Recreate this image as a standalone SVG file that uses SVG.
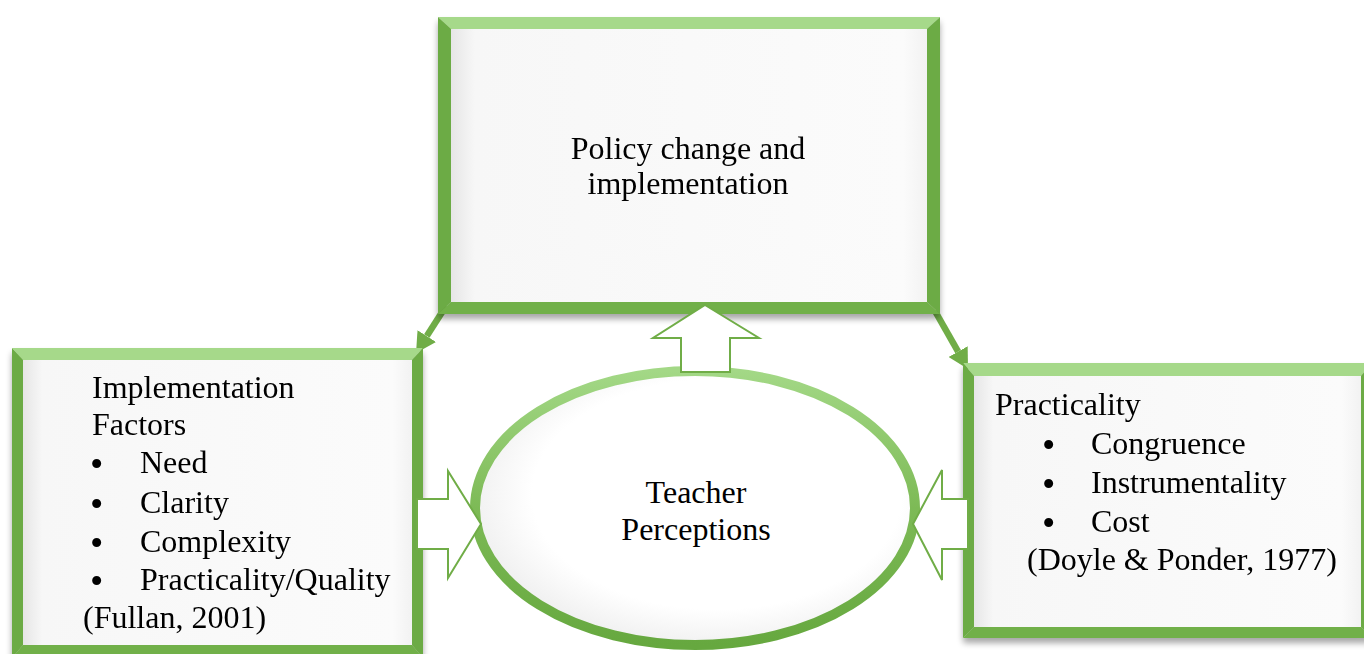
<svg xmlns="http://www.w3.org/2000/svg" width="1364" height="654" viewBox="0 0 1364 654">
<style>
.txt{font-family:"Liberation Serif","Times New Roman",serif;font-size:32px;fill:#000}
.bt{font-size:38px}
.ftop{fill:#A6D98A}
.fside{fill:#6CAB44}
.fbot{fill:#71B04A}
.inner{fill:url(#innerGrad)}
.block{fill:#FFFFFF;stroke:#70AD47;stroke-width:2;stroke-linejoin:miter}
.conn{stroke:#70AD47;stroke-width:6.5;fill:none}
</style>
<defs>
<linearGradient id="innerGrad" x1="0" y1="0" x2="1" y2="0">
<stop offset="0" stop-color="#E6E6E6"/>
<stop offset="0.05" stop-color="#F7F7F7"/>
<stop offset="0.95" stop-color="#FBFBFB"/>
<stop offset="1" stop-color="#F2F2F2"/>
</linearGradient>
<linearGradient id="ringGrad" x1="0" y1="0" x2="0" y2="1">
<stop offset="0" stop-color="#A3D886"/>
<stop offset="0.5" stop-color="#7DBA56"/>
<stop offset="1" stop-color="#66A83F"/>
</linearGradient>
<radialGradient id="ellFill" cx="0.55" cy="0.45" r="0.6">
<stop offset="0.7" stop-color="#FFFFFF"/>
<stop offset="1" stop-color="#ECECEC"/>
</radialGradient>
<filter id="shadow" x="-5%" y="-5%" width="110%" height="115%">
<feGaussianBlur in="SourceAlpha" stdDeviation="3"/>
<feOffset dx="0" dy="5" result="b"/>
<feComponentTransfer><feFuncA type="linear" slope="0.35"/></feComponentTransfer>
<feMerge><feMergeNode/><feMergeNode in="SourceGraphic"/></feMerge>
</filter>
<marker id="ah" viewBox="0 0 20 22" refX="0" refY="11" markerWidth="20" markerHeight="22" markerUnits="userSpaceOnUse" orient="auto">
<path d="M0,0 L20,11 L0,22 z" fill="#70AD47"/>
</marker>
</defs>
<rect width="1364" height="654" fill="#FFFFFF"/>

<g id="connectors">
<line class="conn" x1="446" y1="306" x2="426.8" y2="336.1" marker-end="url(#ah)"/>
<line class="conn" x1="935" y1="311" x2="958.1" y2="351.6" marker-end="url(#ah)"/>
</g>

<g id="node-policy" filter="url(#shadow)">
<polygon class="ftop" points="438,17 940,17 927,29 451,29"/>
<polygon class="fside" points="438,17 451,29 451,302 438,314"/>
<polygon class="fside" points="940,17 940,314 927,302 927,29"/>
<polygon class="fbot" points="438,314 451,302 927,302 940,314"/>
<rect class="inner" x="451" y="29" width="476" height="273"/>
<text class="txt" x="688" y="159" text-anchor="middle">Policy change and</text>
<text class="txt" x="688" y="194" text-anchor="middle">implementation</text>
</g>

<g id="node-implementation" filter="url(#shadow)">
<polygon class="ftop" points="12,348 423,348 412,360 23,360"/>
<polygon class="fside" points="12,348 23,360 23,645 12,658"/>
<polygon class="fside" points="423,348 423,658 412,645 412,360"/>
<polygon class="fbot" points="12,658 23,645 412,645 423,658"/>
<rect class="inner" x="23" y="360" width="389" height="285"/>
<text class="txt" x="92" y="398">Implementation</text>
<text class="txt" x="92" y="435">Factors</text>
<text class="txt" x="90" y="473"><tspan class="bt" dy="4">•</tspan><tspan x="140" dy="-4">Need</tspan></text>
<text class="txt" x="90" y="513"><tspan class="bt" dy="4">•</tspan><tspan x="140" dy="-4">Clarity</tspan></text>
<text class="txt" x="90" y="552"><tspan class="bt" dy="4">•</tspan><tspan x="140" dy="-4">Complexity</tspan></text>
<text class="txt" x="90" y="590"><tspan class="bt" dy="4">•</tspan><tspan x="140" dy="-4">Practicality/Quality</tspan></text>
<text class="txt" x="83" y="628">(Fullan, 2001)</text>
</g>

<g id="node-practicality" filter="url(#shadow)">
<polygon class="ftop" points="963,363 1372,363 1361,376 974,376"/>
<polygon class="fside" points="963,363 974,376 974,627 963,638"/>
<polygon class="fside" points="1372,363 1372,638 1361,627 1361,376"/>
<polygon class="fbot" points="963,638 974,627 1361,627 1372,638"/>
<rect class="inner" x="974" y="376" width="387" height="251"/>
<text class="txt" x="995" y="415">Practicality</text>
<text class="txt" x="1042" y="454"><tspan class="bt" dy="4">•</tspan><tspan x="1091" dy="-4">Congruence</tspan></text>
<text class="txt" x="1042" y="493"><tspan class="bt" dy="4">•</tspan><tspan x="1091" dy="-4">Instrumentality</tspan></text>
<text class="txt" x="1042" y="532"><tspan class="bt" dy="4">•</tspan><tspan x="1091" dy="-4">Cost</tspan></text>
<text class="txt" x="1027" y="570">(Doyle &amp; Ponder, 1977)</text>
</g>

<g id="node-teacher">
<ellipse cx="695" cy="508" rx="220" ry="137" fill="url(#ellFill)" stroke="url(#ringGrad)" stroke-width="10"/>
<text class="txt" x="696" y="503" text-anchor="middle">Teacher</text>
<text class="txt" x="696" y="540" text-anchor="middle">Perceptions</text>
</g>

<g id="block-arrows">
<polygon class="block" points="705,305 759,338 730,338 730,372 681,372 681,338 653,338"/>
<polygon class="block" points="417,499 448,499 448,471 481,524 448,578 448,549 417,549"/>
<polygon class="block" points="968,499 942,499 942,470 913,524 942,580 942,549 968,549"/>
</g>
</svg>
